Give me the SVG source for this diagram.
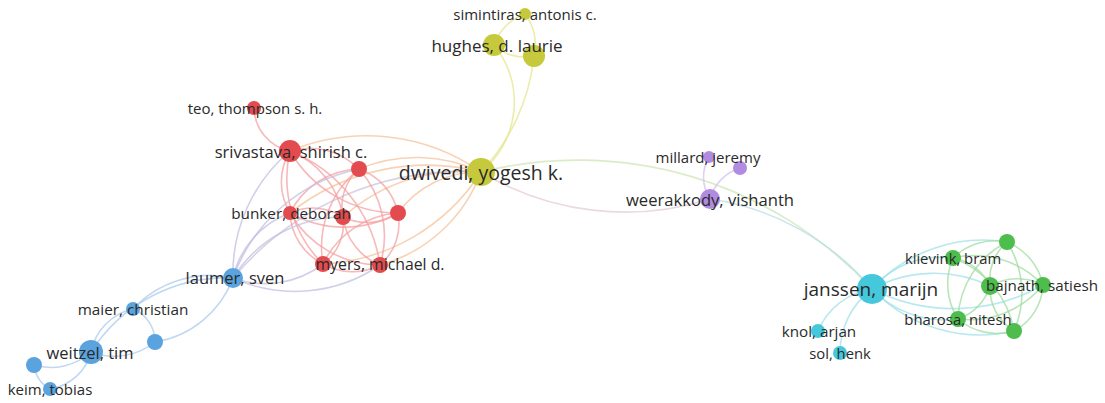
<svg xmlns="http://www.w3.org/2000/svg" width="1105" height="403" viewBox="0 0 1105 403">
<style>
text{font-family:"Open Sans","Liberation Sans",sans-serif;fill:#2a2a2a;text-anchor:middle;dominant-baseline:central}
.e{fill:none;stroke-width:1.6;stroke-opacity:0.75}
.ey{stroke:#e6e690}.eo{stroke:#f6c39c}.er{stroke:#f4a2a2}.eb{stroke:#abcbee}.ebr{stroke:#c3bfe2}
.ep{stroke:#d4c2ef}.ec{stroke:#9fe2ea}.eg{stroke:#a2dca2}.eyp{stroke:#e5cbd6}.eyc{stroke:#cfe6b4}.epc{stroke:#b4dde9}.eby{stroke:#cbc6dc}
.ny{fill:#c6c93c}.nr{fill:#e44b4e}.nb{fill:#5aa3de}.np{fill:#b08be0}.nc{fill:#45c7dc}.ng{fill:#4dbd4d}
</style>
<rect width="1105" height="403" fill="#ffffff"/>
<g id="connectors">
<path class="e ey" d="M525,14 A50,50 0 0 0 494,45"/>
<path class="e ey" d="M525,14 A50,50 0 0 1 534,56"/>
<path class="e ey" d="M494,45 A45,45 0 0 0 534,56"/>
<path class="e ey" d="M494,45 A90,90 0 0 1 481,172"/>
<path class="e ey" d="M534,56 A200,200 0 0 1 481,172"/>
<path class="e eo" d="M290,151 A200,200 0 0 1 481,172"/>
<path class="e eo" d="M359,169 A150,150 0 0 1 481,172"/>
<path class="e eo" d="M290,213 A220,220 0 0 1 481,172"/>
<path class="e eo" d="M343,217 A180,180 0 0 1 481,172"/>
<path class="e eo" d="M398,213 A100,100 0 0 1 481,172"/>
<path class="e eo" d="M323,264 A200,200 0 0 0 481,172"/>
<path class="e eo" d="M380,265 A150,150 0 0 0 481,172"/>
<path class="e eby" d="M233,278 A300,300 0 0 1 481,172"/>
<path class="e er" d="M254,108 A45,45 0 0 0 290,151"/>
<path class="e er" d="M290,151 A70,70 0 0 1 359,169"/>
<path class="e er" d="M290,151 A60,60 0 0 0 290,213"/>
<path class="e er" d="M290,151 A85,85 0 0 1 343,217"/>
<path class="e er" d="M290,151 A125,125 0 0 0 398,213"/>
<path class="e er" d="M290,151 A120,120 0 0 0 323,264"/>
<path class="e er" d="M290,151 A145,145 0 0 1 380,265"/>
<path class="e er" d="M359,169 A80,80 0 0 0 290,213"/>
<path class="e er" d="M359,169 A50,50 0 0 0 343,217"/>
<path class="e er" d="M359,169 A60,60 0 0 1 398,213"/>
<path class="e er" d="M359,169 A100,100 0 0 0 323,264"/>
<path class="e er" d="M359,169 A100,100 0 0 1 380,265"/>
<path class="e er" d="M290,213 A55,55 0 0 1 343,217"/>
<path class="e er" d="M290,213 A110,110 0 0 0 398,213"/>
<path class="e er" d="M290,213 A60,60 0 0 0 323,264"/>
<path class="e er" d="M290,213 A105,105 0 0 0 380,265"/>
<path class="e er" d="M343,217 A55,55 0 0 0 398,213"/>
<path class="e er" d="M343,217 A50,50 0 0 1 323,264"/>
<path class="e er" d="M343,217 A60,60 0 0 0 380,265"/>
<path class="e er" d="M398,213 A90,90 0 0 0 323,264"/>
<path class="e er" d="M398,213 A55,55 0 0 1 380,265"/>
<path class="e er" d="M323,264 A60,60 0 0 0 380,265"/>
<path class="e ebr" d="M233,278 A160,160 0 0 1 290,151"/>
<path class="e ebr" d="M233,278 A90,90 0 0 1 290,213"/>
<path class="e ebr" d="M233,278 A130,130 0 0 1 343,217"/>
<path class="e ebr" d="M233,278 A170,170 0 0 1 359,169"/>
<path class="e ebr" d="M233,278 A95,95 0 0 0 323,264"/>
<path class="e ebr" d="M233,278 A150,150 0 0 0 380,265"/>
<path class="e eb" d="M133,309 A105,105 0 0 1 233,278"/>
<path class="e eb" d="M155,342 A100,100 0 0 0 233,278"/>
<path class="e eb" d="M91,352 A160,160 0 0 1 233,278"/>
<path class="e eb" d="M133,309 A35,35 0 0 1 155,342"/>
<path class="e eb" d="M133,309 A55,55 0 0 0 91,352"/>
<path class="e eb" d="M155,342 A65,65 0 0 1 91,352"/>
<path class="e eb" d="M91,352 A60,60 0 0 1 34,365"/>
<path class="e eb" d="M91,352 A50,50 0 0 1 50,389"/>
<path class="e eb" d="M34,365 A30,30 0 0 0 50,389"/>
<path class="e eyp" d="M481,172 A280,280 0 0 0 710,199"/>
<path class="e eyc" d="M481,172 A400,400 0 0 1 872,289"/>
<path class="e epc" d="M710,199 A260,260 0 0 1 872,289"/>
<path class="e ep" d="M709,157 A40,40 0 0 0 710,199"/>
<path class="e ep" d="M740,168 A45,45 0 0 0 710,199"/>
<path class="e ec" d="M872,289 A70,70 0 0 0 818,331"/>
<path class="e ec" d="M872,289 A80,80 0 0 0 840,353"/>
<path class="e ec" d="M872,289 A150,150 0 0 1 1007,242"/>
<path class="e ec" d="M872,289 A90,90 0 0 1 953,258"/>
<path class="e ec" d="M872,289 A130,130 0 0 1 990,286"/>
<path class="e ec" d="M872,289 A180,180 0 0 0 1043,285"/>
<path class="e ec" d="M872,289 A100,100 0 0 0 958,319"/>
<path class="e ec" d="M872,289 A150,150 0 0 0 1014,331"/>
<path class="e eg" d="M1007,242 A60,60 0 0 0 953,258"/>
<path class="e eg" d="M1007,242 A50,50 0 0 0 990,286"/>
<path class="e eg" d="M1007,242 A60,60 0 0 1 1043,285"/>
<path class="e eg" d="M1007,242 A90,90 0 0 0 958,319"/>
<path class="e eg" d="M1007,242 A95,95 0 0 1 1014,331"/>
<path class="e eg" d="M953,258 A50,50 0 0 1 990,286"/>
<path class="e eg" d="M953,258 A95,95 0 0 1 1043,285"/>
<path class="e eg" d="M953,258 A65,65 0 0 0 958,319"/>
<path class="e eg" d="M953,258 A95,95 0 0 1 1014,331"/>
<path class="e eg" d="M990,286 A55,55 0 0 1 1043,285"/>
<path class="e eg" d="M990,286 A50,50 0 0 1 958,319"/>
<path class="e eg" d="M990,286 A50,50 0 0 0 1014,331"/>
<path class="e eg" d="M1043,285 A95,95 0 0 1 958,319"/>
<path class="e eg" d="M1043,285 A55,55 0 0 1 1014,331"/>
<path class="e eg" d="M958,319 A60,60 0 0 0 1014,331"/>
</g>
<g id="node-y3"><circle class="ny" cx="534" cy="56" r="11"/></g>
<g id="node-r3"><circle class="nr" cx="359" cy="169" r="8"/></g>
<g id="node-r5"><circle class="nr" cx="343" cy="217" r="8"/></g>
<g id="node-r6"><circle class="nr" cx="398" cy="213" r="8"/></g>
<g id="node-r7"><circle class="nr" cx="323" cy="264" r="8"/></g>
<g id="node-b3"><circle class="nb" cx="155" cy="342" r="8"/></g>
<g id="node-b5"><circle class="nb" cx="34" cy="365" r="8"/></g>
<g id="node-p2"><circle class="np" cx="740" cy="168" r="7"/></g>
<g id="node-g1"><circle class="ng" cx="1007" cy="242" r="8"/></g>
<g id="node-g3"><circle class="ng" cx="990" cy="286" r="9"/></g>
<g id="node-g6"><circle class="ng" cx="1014" cy="331" r="8"/></g>
<g id="node-simintiras"><circle class="ny" cx="525" cy="14" r="6"/><text x="525" y="14" font-size="15">simintiras, antonis c.</text></g>
<g id="node-hughes"><circle class="ny" cx="494" cy="45" r="11"/><text x="497" y="45" font-size="17">hughes, d. laurie</text></g>
<g id="node-dwivedi"><circle class="ny" cx="481" cy="172" r="14"/><text x="481" y="172" font-size="19.5">dwivedi, yogesh k.</text></g>
<g id="node-teo"><circle class="nr" cx="254" cy="108" r="7"/><text x="255" y="108" font-size="15">teo, thompson s. h.</text></g>
<g id="node-srivastava"><circle class="nr" cx="290" cy="151" r="11"/><text x="291" y="151" font-size="16.5">srivastava, shirish c.</text></g>
<g id="node-bunker"><circle class="nr" cx="290" cy="213" r="7"/><text x="291" y="213" font-size="15.3">bunker, deborah</text></g>
<g id="node-myers"><circle class="nr" cx="380" cy="265" r="8"/><text x="380" y="264" font-size="15.8">myers, michael d.</text></g>
<g id="node-laumer"><circle class="nb" cx="233" cy="278" r="10"/><text x="235" y="277" font-size="16.5">laumer, sven</text></g>
<g id="node-maier"><circle class="nb" cx="133" cy="309" r="7"/><text x="133" y="309" font-size="15.3">maier, christian</text></g>
<g id="node-weitzel"><circle class="nb" cx="91" cy="352" r="12"/><text x="90" y="352" font-size="16.5">weitzel, tim</text></g>
<g id="node-keim"><circle class="nb" cx="50" cy="389" r="7"/><text x="50" y="389" font-size="15">keim, tobias</text></g>
<g id="node-millard"><circle class="np" cx="709" cy="157" r="6"/><text x="708" y="157" font-size="15">millard, jeremy</text></g>
<g id="node-weerakkody"><circle class="np" cx="710" cy="199" r="10"/><text x="710" y="199" font-size="16.6">weerakkody, vishanth</text></g>
<g id="node-janssen"><circle class="nc" cx="872" cy="289" r="15"/><text x="871" y="289" font-size="19">janssen, marijn</text></g>
<g id="node-knol"><circle class="nc" cx="818" cy="331" r="7"/><text x="819" y="331" font-size="15.2">knol, arjan</text></g>
<g id="node-sol"><circle class="nc" cx="840" cy="353" r="7"/><text x="840" y="353" font-size="14.8">sol, henk</text></g>
<g id="node-klievink"><circle class="ng" cx="953" cy="258" r="8"/><text x="953" y="258" font-size="14.8">klievink, bram</text></g>
<g id="node-bajnath"><circle class="ng" cx="1043" cy="285" r="8"/><text x="1042" y="285" font-size="15.2">bajnath, satiesh</text></g>
<g id="node-bharosa"><circle class="ng" cx="958" cy="319" r="8"/><text x="958" y="319" font-size="14.9">bharosa, nitesh</text></g>
</svg>
